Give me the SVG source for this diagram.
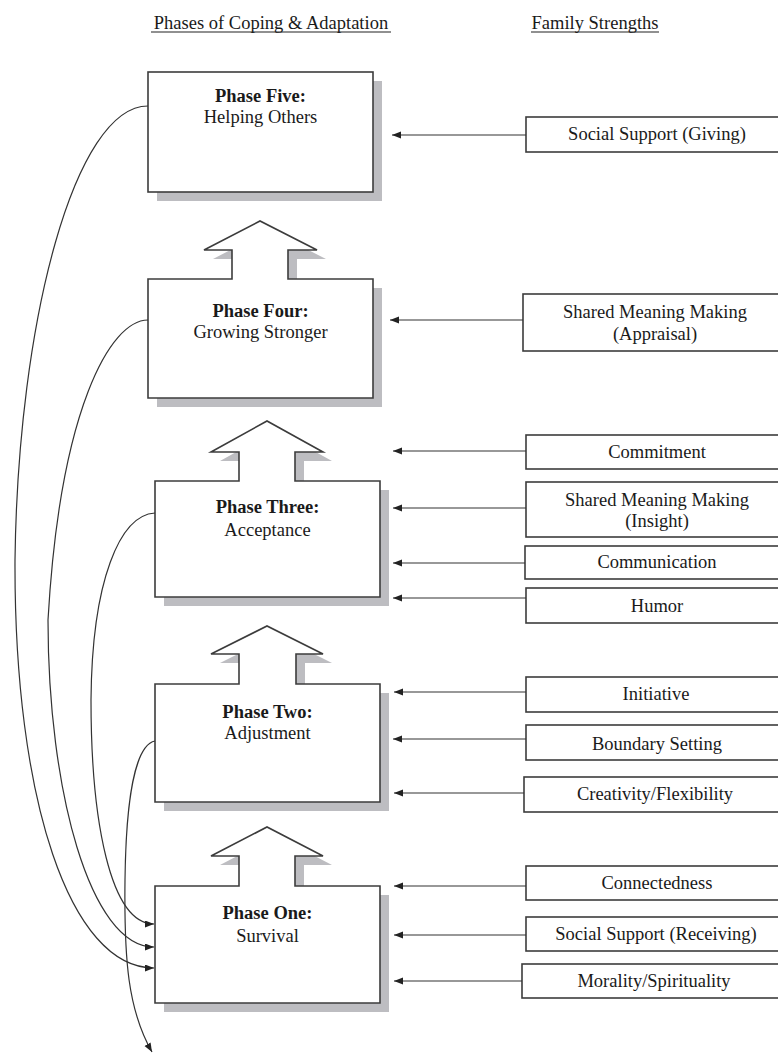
<svg xmlns="http://www.w3.org/2000/svg" width="778" height="1053" viewBox="0 0 778 1053">
<defs>
<marker id="ah" markerUnits="userSpaceOnUse" markerWidth="10" markerHeight="8" refX="9" refY="3.5" orient="auto">
<path d="M0,0 L9,3.5 L0,7 Z" fill="#222"/>
</marker>
<style>
.t{font-family:"Liberation Serif","Times New Roman",serif;font-size:18.5px;fill:#1a1a1a;text-anchor:middle}
.b{font-weight:bold}
.box{fill:#fff;stroke:#3c3c3c;stroke-width:1.6}
.sh{fill:#bdbdc1}
.c{fill:none;stroke:#333;stroke-width:1.2}
.a{fill:none;stroke:#333;stroke-width:1.2;marker-end:url(#ah)}
.u{stroke:#222;stroke-width:1.2}
</style>
</defs>
<rect width="778" height="1053" fill="#fff"/>
<g id="headers">
<text class="t" x="271" y="29">Phases of Coping &amp; Adaptation</text>
<line class="u" x1="151" y1="32" x2="391" y2="32"/>
<text class="t" x="595" y="29">Family Strengths</text>
<line class="u" x1="531" y1="32" x2="659" y2="32"/>
</g>
<g id="phase5">
<rect class="sh" x="157" y="81" width="225" height="120"/>
<rect class="box" x="148" y="72" width="225" height="120"/>
<text class="t b" x="260.5" y="102">Phase Five:</text>
<text class="t" x="260.5" y="123">Helping Others</text>
</g>
<g id="phase4">
<path class="sh" transform="translate(9,9)" d="M148,279 H232 V250 H204 L260,221 L317,250 H288 V279 H373 V398 H148 Z"/>
<path class="box" d="M148,279 H232 V250 H204 L260,221 L317,250 H288 V279 H373 V398 H148 Z"/>
<text class="t b" x="260.5" y="317">Phase Four:</text>
<text class="t" x="260.5" y="338">Growing Stronger</text>
</g>
<g id="phase3">
<path class="sh" transform="translate(9,9)" d="M155,481 H239 V452 H211 L267,421 L323,452 H295 V481 H380 V597 H155 Z"/>
<path class="box" d="M155,481 H239 V452 H211 L267,421 L323,452 H295 V481 H380 V597 H155 Z"/>
<text class="t b" x="267.5" y="513">Phase Three:</text>
<text class="t" x="267.5" y="536">Acceptance</text>
</g>
<g id="phase2">
<path class="sh" transform="translate(9,9)" d="M155,684 H239 V654 H211 L267,626 L323,654 H296 V684 H380 V802 H155 Z"/>
<path class="box" d="M155,684 H239 V654 H211 L267,626 L323,654 H296 V684 H380 V802 H155 Z"/>
<text class="t b" x="267.5" y="718">Phase Two:</text>
<text class="t" x="267.5" y="739">Adjustment</text>
</g>
<g id="phase1">
<path class="sh" transform="translate(9,9)" d="M155,886 H239 V856 H211 L267,827 L323,856 H295 V886 H380 V1003 H155 Z"/>
<path class="box" d="M155,886 H239 V856 H211 L267,827 L323,856 H295 V886 H380 V1003 H155 Z"/>
<text class="t b" x="267.5" y="919">Phase One:</text>
<text class="t" x="267.5" y="942">Survival</text>
</g>
<g id="s-giving">
<rect class="box" x="526" y="117" width="265" height="35"/>
<text class="t" x="657" y="140">Social Support (Giving)</text>
</g>
<g id="s-appraisal">
<rect class="box" x="523" y="294" width="268" height="57"/>
<text class="t" x="655" y="318">Shared Meaning Making</text>
<text class="t" x="655" y="340">(Appraisal)</text>
</g>
<g id="s-commitment">
<rect class="box" x="526" y="435" width="265" height="34"/>
<text class="t" x="657" y="458">Commitment</text>
</g>
<g id="s-insight">
<rect class="box" x="526" y="482" width="265" height="55"/>
<text class="t" x="657" y="506">Shared Meaning Making</text>
<text class="t" x="657" y="527">(Insight)</text>
</g>
<g id="s-communication">
<rect class="box" x="525" y="546" width="266" height="33"/>
<text class="t" x="657" y="568">Communication</text>
</g>
<g id="s-humor">
<rect class="box" x="526" y="588" width="265" height="35"/>
<text class="t" x="657" y="612">Humor</text>
</g>
<g id="s-initiative">
<rect class="box" x="526" y="677" width="265" height="35"/>
<text class="t" x="656" y="700">Initiative</text>
</g>
<g id="s-boundary">
<rect class="box" x="526" y="725" width="265" height="35"/>
<text class="t" x="657" y="750">Boundary Setting</text>
</g>
<g id="s-creativity">
<rect class="box" x="524" y="777" width="267" height="35"/>
<text class="t" x="655" y="800">Creativity/Flexibility</text>
</g>
<g id="s-connectedness">
<rect class="box" x="526" y="866" width="265" height="34"/>
<text class="t" x="657" y="889">Connectedness</text>
</g>
<g id="s-receiving">
<rect class="box" x="526" y="917" width="265" height="34"/>
<text class="t" x="656" y="940">Social Support (Receiving)</text>
</g>
<g id="s-morality">
<rect class="box" x="522" y="964" width="269" height="34"/>
<text class="t" x="654" y="987">Morality/Spirituality</text>
</g>
<g id="connectors">
<path class="a" d="M526,135 H392"/>
<path class="a" d="M523,320 H390"/>
<path class="a" d="M526,451 H393"/>
<path class="a" d="M526,508 H393"/>
<path class="a" d="M525,563 H393"/>
<path class="a" d="M526,598 H393"/>
<path class="a" d="M526,692 H394"/>
<path class="a" d="M526,739 H393"/>
<path class="a" d="M524,793 H394"/>
<path class="a" d="M526,886 H394"/>
<path class="a" d="M526,935 H394"/>
<path class="a" d="M522,981 H394"/>
<path class="a" d="M148,106 C75,106 18,320 15,560 C14,800 70,968 154,968"/>
<path class="a" d="M148,320 C110,320 60,410 48,620 C48,790 90,947 154,947"/>
<path class="a" d="M155,513 C120,515 92,580 91,700 C91,820 110,924 154,924"/>
<path class="a" d="M155,741 C135,745 126,800 125,880 C124,960 128,1010 152,1052"/>
</g>
</svg>
